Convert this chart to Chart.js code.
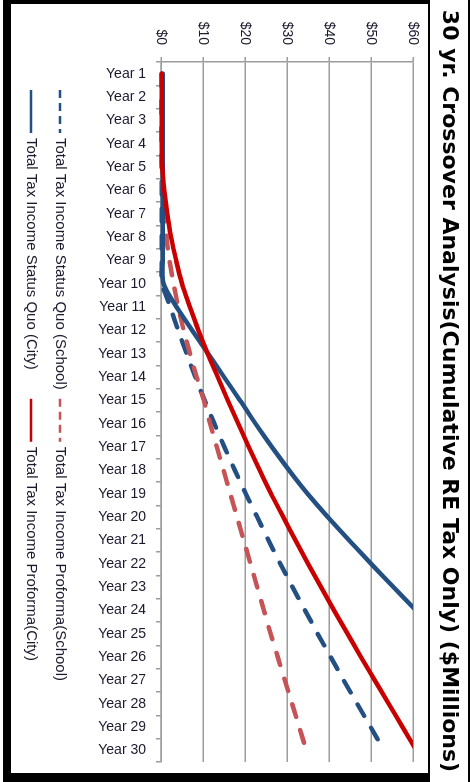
<!DOCTYPE html>
<html>
<head>
<meta charset="utf-8">
<script src="https://cdn.jsdelivr.net/npm/chart.js@4.4.1/dist/chart.umd.min.js"></script>
<style>
  html, body { margin: 0; padding: 0; background: #fff; overflow: hidden; width: 475px; height: 782px; }
  /* landscape chart frame, turned a quarter turn clockwise onto the portrait page */
  #frame { position: absolute; left: 475px; top: 0; width: 782px; height: 475px;
           transform-origin: 0 0; transform: rotate(90deg); background: #fff; }
  #titleBand { position: absolute; left: 0; top: 5px; width: 782px; height: 42px; box-sizing: border-box;
               border-top: 2px solid #000; border-bottom: 2px solid #000; }
  #plotBox { position: absolute; left: 0; top: 45px; width: 782px; height: 427px; box-sizing: border-box;
             border-style: solid; border-color: #000; border-width: 2px 9px 8px 4px; }
  #c { position: absolute; left: 0; top: 0; }
</style>
</head>
<body>
<div id="frame">
  <div id="titleBand"></div>
  <div id="plotBox"></div>
  <canvas id="c" width="782" height="475"></canvas>
</div>
<script>
// Categories
const years = [
  'Year 1', 'Year 2', 'Year 3', 'Year 4', 'Year 5', 'Year 6', 'Year 7', 'Year 8', 'Year 9', 'Year 10',
  'Year 11', 'Year 12', 'Year 13', 'Year 14', 'Year 15', 'Year 16', 'Year 17', 'Year 18', 'Year 19', 'Year 20',
  'Year 21', 'Year 22', 'Year 23', 'Year 24', 'Year 25', 'Year 26', 'Year 27', 'Year 28', 'Year 29', 'Year 30'
];

// Value axis ticks ($ millions)
const valueTicks = [0, 10, 20, 30, 40, 50, 60];

// Cumulative real-estate tax, $ millions
const statusQuoSchool = [0.2, 0.2, 0.2, 0.2, 0.2, 0.2, 0.2, 0.2, 0.2, 0.3,
                         2.2, 4.1, 6.1, 8.2, 10.4, 12.7, 15.1, 17.6, 20.2, 22.9,
                         25.6, 28.4, 31.3, 34.3, 37.3, 40.4, 43.5, 46.7, 49.9, 53.1];
const proformaSchool  = [0.2, 0.2, 0.2, 0.2, 0.2, 0.5, 0.9, 1.3, 2.0, 3.0,
                         4.1, 5.4, 6.9, 8.5, 10.2, 11.7, 13.3, 14.9, 16.5, 18.1,
                         19.7, 21.3, 22.9, 24.5, 26.1, 27.8, 29.5, 31.2, 32.9, 34.6];
const statusQuoCity   = [0.4, 0.4, 0.4, 0.4, 0.4, 0.4, 0.4, 0.4, 0.4, 0.6,
                         3.7, 7.4, 11.2, 15.0, 18.8, 22.5, 26.4, 30.5, 34.9, 39.7,
                         44.8, 50.0, 55.3, 60.7, 66.1, 71.6, 77.2, 82.9, 88.6, 94.4];
const proformaCity    = [0.2, 0.2, 0.2, 0.2, 0.3, 0.8, 1.5, 2.4, 3.6, 5.0,
                         6.9, 8.9, 11.1, 13.5, 15.9, 18.4, 20.9, 23.5, 26.2, 29.1,
                         32.0, 35.0, 38.1, 41.2, 44.4, 47.6, 50.9, 54.2, 57.5, 60.8];

const seriesNames = [
  'Total Tax Income Status Quo (School)',
  'Total Tax Income Proforma(School)',
  'Total Tax Income Status Quo (City)',
  'Total Tax Income Proforma(City)'
];

const TITLE = '30 yr. Crossover Analysis(Cumulative RE Tax Only) ($Millions)';
const FONT = "'Liberation Sans', Arial, sans-serif";
const TITLE_FONT = "'DejaVu Sans', 'Liberation Sans', sans-serif";
const TEXT = '#1b1b30';
const GRID = '#9c9c9c';
const BLUE = '#234F83';
const RED = '#C80000';
const RED_LIGHT = '#C65355';
const DASH = [13, 14];
const CLIP = { left: 5, top: 0, right: 5, bottom: 5 };

// Legend laid out as a 2-column grid under the category labels
const gridLegend = {
  id: 'gridLegend',
  afterDraw(chart, args, opts) {
    const ctx = chart.ctx;
    const datasets = chart.data.datasets;
    ctx.save();
    ctx.font = opts.fontSize + 'px ' + FONT;
    ctx.textBaseline = 'middle';
    ctx.textAlign = 'left';
    const colText = [];
    datasets.forEach((ds, i) => {
      const c = i % opts.columns;
      colText[c] = Math.max(colText[c] || 0, ctx.measureText(ds.label).width);
    });
    const colX = [opts.left];
    for (let c = 1; c < opts.columns; c++) {
      colX[c] = colX[c - 1] + opts.sample + opts.textGap + colText[c - 1] + opts.colGap;
    }
    datasets.forEach((ds, i) => {
      const c = i % opts.columns;
      const r = Math.floor(i / opts.columns);
      const x = colX[c];
      const y = opts.rowTop + r * opts.rowStep;
      ctx.beginPath();
      ctx.lineWidth = opts.lineWidth;
      ctx.lineCap = 'butt';
      ctx.strokeStyle = ds.borderColor;
      ctx.setLineDash(ds.borderDash ? opts.dash : []);
      ctx.moveTo(x, y);
      ctx.lineTo(x + opts.sample, y);
      ctx.stroke();
      ctx.setLineDash([]);
      ctx.fillStyle = TEXT;
      ctx.fillText(ds.label, x + opts.sample + opts.textGap, y);
    });
    ctx.restore();
  }
};

new Chart(document.getElementById('c'), {
  type: 'line',
  data: {
    labels: years,
    datasets: [
      { label: seriesNames[0], data: statusQuoSchool, borderColor: BLUE, backgroundColor: BLUE, borderDash: DASH, order: 3, clip: CLIP },
      { label: seriesNames[1], data: proformaSchool, borderColor: RED_LIGHT, backgroundColor: RED_LIGHT, borderDash: DASH, order: 2, clip: CLIP },
      { label: seriesNames[2], data: statusQuoCity, borderColor: BLUE, backgroundColor: BLUE, order: 1, clip: CLIP },
      { label: seriesNames[3], data: proformaCity, borderColor: RED, backgroundColor: RED, order: 0, clip: CLIP }
    ]
  },
  plugins: [gridLegend],
  options: {
    responsive: false,
    animation: false,
    devicePixelRatio: 1,
    layout: { padding: { left: 0, right: 0, top: 0, bottom: 82 } },
    elements: {
      line: { borderWidth: 4.5, tension: 0.3, borderCapStyle: 'round', borderJoinStyle: 'round', fill: false },
      point: { radius: 0, hoverRadius: 0 }
    },
    plugins: {
      title: {
        display: true, text: TITLE, color: '#000',
        font: { family: TITLE_FONT, size: 22, weight: 'bold', lineHeight: 1.2 },
        padding: { top: 13, bottom: 22.6 }
      },
      legend: { display: false },
      gridLegend: {
        columns: 2, left: 90, rowTop: 415, rowStep: 29, sample: 43, textGap: 5, colGap: 9,
        fontSize: 15, lineWidth: 2.5, dash: [8, 5]
      },
      tooltip: { enabled: false }
    },
    scales: {
      x: {
        offset: true,
        grid: { display: true, drawOnChartArea: false, drawTicks: true, tickLength: 5, offset: true, color: GRID, lineWidth: 1.5 },
        border: { display: true, color: GRID, width: 1.5 },
        ticks: { autoSkip: false, minRotation: 90, maxRotation: 90, padding: 10, color: TEXT, font: { family: FONT, size: 14 } },
        afterFit(s) { s.height = 79; s.paddingRight = 20; }
      },
      y: {
        min: valueTicks[0], max: valueTicks[valueTicks.length - 1],
        ticks: { stepSize: valueTicks[1] - valueTicks[0], padding: 12, color: TEXT, font: { family: FONT, size: 14 },
                 callback: v => '$' + v },
        grid: { color: GRID, lineWidth: 1.5, tickLength: 5 },
        border: { display: true, color: GRID, width: 1.5 },
        afterFit(s) { s.width = 62; }
      }
    }
  }
});
</script>
</body>
</html>
